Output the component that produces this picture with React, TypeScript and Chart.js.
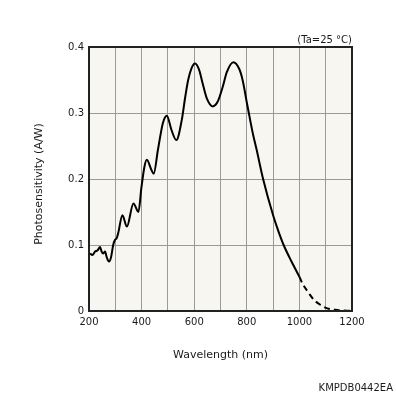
import React, { useEffect, useRef } from "react";
import { Chart, registerables } from "chart.js";

Chart.register(...registerables);

const wavelengthMeasured = [204, 213, 223, 233, 242, 248, 254, 261, 267, 276, 284, 292, 299, 305, 311, 327, 344, 369, 388, 399, 411, 420, 437, 446, 462, 481, 496, 513, 532, 553, 565, 577, 589, 603, 619, 632, 648, 670, 689, 708, 724, 749, 771, 784, 800, 812, 824, 837, 862, 900, 920, 940, 970, 1000];
const sensitivityMeasured = [0.087, 0.085, 0.090, 0.092, 0.097, 0.090, 0.087, 0.090, 0.082, 0.075, 0.082, 0.100, 0.108, 0.110, 0.118, 0.145, 0.128, 0.163, 0.150, 0.186, 0.219, 0.229, 0.214, 0.208, 0.244, 0.285, 0.296, 0.275, 0.259, 0.290, 0.322, 0.350, 0.367, 0.375, 0.365, 0.345, 0.322, 0.310, 0.317, 0.339, 0.362, 0.377, 0.367, 0.350, 0.316, 0.291, 0.267, 0.245, 0.200, 0.145, 0.121, 0.100, 0.075, 0.052];
const wavelengthExtrapolated = [1000, 1011, 1036, 1055, 1081, 1106, 1144, 1200];
const sensitivityExtrapolated = [0.052, 0.042, 0.027, 0.017, 0.009, 0.004, 0.0015, 0];

const xTickLabels = ["200", "400", "600", "800", "1000", "1200"];
const yTickLabels = ["0", "0.1", "0.2", "0.3", "0.4"];

const xAxisTitle = "Wavelength (nm)";
const yAxisTitle = "Photosensitivity (A/W)";
const conditionNote = "(Ta=25 °C)";
const figureCode = "KMPDB0442EA";

const FONT = "'DejaVu Sans', Verdana, sans-serif";
const TEXT = "#1a1a1a";

const decorPlugin = {
  id: "decor",
  beforeDraw(chart: any) {
    const { ctx, chartArea: a } = chart;
    ctx.save();
    ctx.fillStyle = "#f7f6f0";
    ctx.fillRect(a.left, a.top, a.right - a.left, a.bottom - a.top);
    ctx.restore();
  },
  afterDraw(chart: any) {
    const { ctx, chartArea: a, width, height } = chart;
    ctx.save();
    ctx.strokeStyle = "#222";
    ctx.lineWidth = 2;
    ctx.strokeRect(a.left, a.top, a.right - a.left, a.bottom - a.top);
    ctx.fillStyle = TEXT;
    ctx.font = `11px ${FONT}`;
    ctx.textBaseline = "middle";
    ctx.textAlign = "center";
    ctx.fillText(xAxisTitle, (a.left + a.right) / 2, a.bottom + 44);
    ctx.save();
    ctx.translate(a.left - 50, (a.top + a.bottom) / 2 + 5);
    ctx.rotate(-Math.PI / 2);
    ctx.fillText(yAxisTitle, 0, 0);
    ctx.restore();
    ctx.font = `10px ${FONT}`;
    ctx.textAlign = "right";
    ctx.fillText(conditionNote, a.right, a.top - 7);
    ctx.fillText(figureCode, width - 3, height - 8);
    ctx.restore();
  },
};

export default function App() {
  const ref = useRef<HTMLCanvasElement>(null);
  useEffect(() => {
    if (!ref.current) return;
    const chart = new Chart(ref.current, {
      type: "line",
      data: {
        datasets: [
          {
            data: wavelengthMeasured.map((x, i) => ({ x, y: sensitivityMeasured[i] })),
            borderColor: "#000",
            borderWidth: 2,
            pointRadius: 0,
            cubicInterpolationMode: "monotone",
            fill: false,
          },
          {
            data: wavelengthExtrapolated.map((x, i) => ({ x, y: sensitivityExtrapolated[i] })),
            borderColor: "#000",
            borderWidth: 2,
            borderDash: [6, 4],
            pointRadius: 0,
            cubicInterpolationMode: "monotone",
            fill: false,
          },
        ],
      },
      options: {
        animation: false,
        responsive: false,
        events: [],
        layout: { padding: { top: 47, right: 44, left: 0, bottom: 0 } },
        plugins: { legend: { display: false }, tooltip: { enabled: false } },
        scales: {
          x: {
            type: "linear",
            min: 200,
            max: 1200,
            afterFit: (s: any) => { s.height = 85; },
            ticks: {
              stepSize: 100,
              autoSkip: false,
              maxRotation: 0,
              padding: 5,
              color: TEXT,
              font: { family: FONT, size: 10 },
              callback: (v: any) => {
                const idx = xTickLabels.indexOf(String(v));
                return idx >= 0 ? xTickLabels[idx] : "";
              },
            },
            grid: { color: "#9a9a9a", lineWidth: 1, drawTicks: false },
            border: { display: false },
          },
          y: {
            min: 0,
            max: 0.4,
            afterFit: (s: any) => { s.width = 89; },
            ticks: {
              stepSize: 0.1,
              padding: 5,
              color: TEXT,
              font: { family: FONT, size: 10 },
              callback: (v: any, i: number) => yTickLabels[i] ?? "",
            },
            grid: { color: "#9a9a9a", lineWidth: 1, drawTicks: false },
            border: { display: false },
          },
        },
      },
      plugins: [decorPlugin],
    } as any);
    return () => chart.destroy();
  }, []);
  return (
    <div style={{ position: "fixed", left: 0, top: 0, width: 396, height: 396, background: "#fff" }}>
      <canvas ref={ref} width={396} height={396} style={{ width: 396, height: 396, display: "block" }} />
    </div>
  );
}
